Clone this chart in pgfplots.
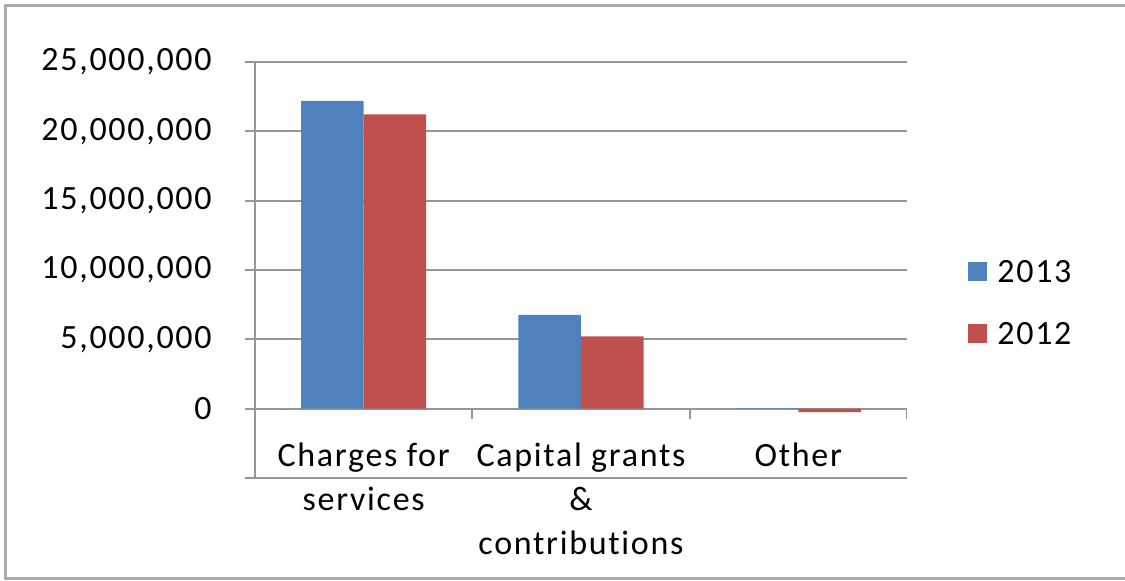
\documentclass[border=0pt]{standalone}
\usepackage{pgfplots}
\pgfplotsset{compat=1.18}
\usepackage{fontspec}
\setmainfont{Carlito}[LetterSpace=5, Ligatures=NoCommon]
\definecolor{c13}{HTML}{4F81BD}
\definecolor{c12}{HTML}{C0504D}
\definecolor{gridc}{HTML}{969696}
\definecolor{framec}{HTML}{ABABAB}
\begin{document}
\begin{tikzpicture}
\useasboundingbox (0,0) rectangle (562.5pt,290pt);
\draw[framec, line width=1.5pt] (2.75pt,0.75pt) rectangle (580pt,287.25pt);
\begin{axis}[
 at={(127.5pt,51pt)}, anchor=south west,
 scale only axis, width=326pt, height=208pt,
 xmin=-0.5, xmax=2.5, ymin=-5000000, ymax=25000000,
 axis lines*=left,
 axis line style={-, gridc, line width=1pt},
 ybar, bar width=0.2876,
 ytick={-5000000,0,5000000,10000000,15000000,20000000,25000000},
 yticklabels={{},0,{5,000,000},{10,000,000},{15,000,000},{20,000,000},{25,000,000}},
 scaled y ticks=false,
 ymajorgrids, grid style={gridc, line width=1pt},
 ytick style={gridc, line width=1pt},
 tick align=outside, major tick length=5pt,
 xtick={0,1,2},
 xticklabels={{Charges for\\services},{Capital grants\\\&\\contributions},{Other}},
 xtick style={draw=none},
 tick label style={font=\fontsize{17}{22}\selectfont, text=black},
 yticklabel style={anchor=east, inner sep=0pt, xshift=-16.5pt},
 xticklabel style={anchor=north, align=center, inner sep=0pt, yshift=22.7pt},
 legend style={draw=none, fill=none, at={(1.0936,0.419)}, anchor=west, inner sep=0pt, row sep=18.5pt, font=\fontsize{17}{20}\selectfont, nodes={inner sep=0pt}, /tikz/every odd column/.append style={column sep=5pt}},
 legend image code/.code={\fill[#1] (0pt,-4.25pt) rectangle (9.5pt,5.25pt);},
]
\addplot[fill=c13, draw=none, bar shift=-0.1438] coordinates {(0,22200000) (1,6770000) (2,40000)};
\addplot[fill=c12, draw=none, bar shift=0.1438] coordinates {(0,21230000) (1,5220000) (2,-250000)};
\legend{2013,2012}
\draw[gridc, line width=1pt] (axis cs:-0.5,0) -- ++(0pt,-5pt);
\draw[gridc, line width=1pt] (axis cs:0.5,0) -- ++(0pt,-5pt);
\draw[gridc, line width=1pt] (axis cs:1.5,0) -- ++(0pt,-5pt);
\draw[gridc, line width=1pt] (axis cs:2.5,0) -- ++(0pt,-5pt);
\end{axis}
\end{tikzpicture}
\end{document}
